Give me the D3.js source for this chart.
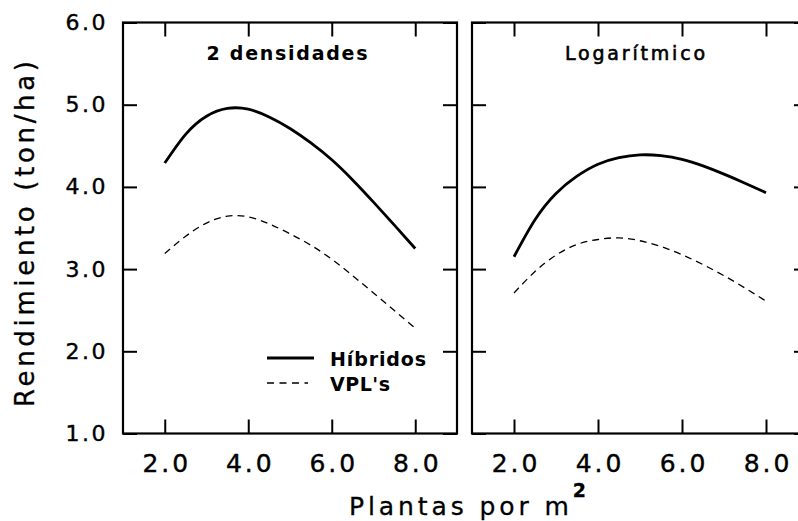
<!DOCTYPE html>
<html>
<head>
<meta charset="utf-8">
<script src="https://cdn.jsdelivr.net/npm/d3@7"></script>
<style>
  html, body { margin: 0; padding: 0; background: #fff; }
  svg { display: block; font-family: "DejaVu Sans", sans-serif; }
</style>
</head>
<body>
<svg id="chart" width="798" height="521"></svg>
<script>
// ---- data ----
const plantas = [2.0, 2.5, 3.0, 3.5, 4.0, 4.5, 5.0, 5.5, 6.0, 6.5, 7.0, 7.5, 8.0];
const hibridosDens = [4.29, 4.64, 4.86, 4.955, 4.945, 4.85, 4.71, 4.535, 4.33, 4.085, 3.815, 3.535, 3.25];
const vplDens      = [3.19, 3.40, 3.56, 3.645, 3.635, 3.55, 3.43, 3.29, 3.12, 2.92, 2.71, 2.495, 2.28];
const hibridosLog  = [3.15, 3.60, 3.92, 4.13, 4.275, 4.355, 4.39, 4.38, 4.335, 4.255, 4.155, 4.045, 3.93];
const vplLog       = [2.71, 2.97, 3.17, 3.30, 3.36, 3.38, 3.345, 3.275, 3.175, 3.055, 2.92, 2.77, 2.61];
const panelTitles  = ["2 densidades", "Logarítmico"];
const legendLabels = ["Híbridos", "VPL's"];
const xTickValues  = [2, 4, 6, 8];
const yTickValues  = [1, 2, 3, 4, 5, 6];
const xTitle = "Plantas por m";
const xTitleSup = "2";
const yTitle = "Rendimiento (ton/ha)";

// ---- layout ----
const svg = d3.select("#chart");
const plotTop = 22.5, plotBottom = 433.5;
const panels = [
  { x0: 123, x1: 457, title: panelTitles[0], hib: hibridosDens, vpl: vplDens, labels: true },
  { x0: 472, x1: 808, title: panelTitles[1], hib: hibridosLog, vpl: vplLog, labels: false }
];
const y = d3.scaleLinear().domain([1, 6]).range([plotBottom, plotTop]);
const fmt = d3.format(".1f");

panels.forEach((p, i) => {
  const x = d3.scaleLinear().domain([1, 9]).range([p.x0, p.x1]);
  const g = svg.append("g");

  // frame
  g.append("rect").attr("x", p.x0).attr("y", plotTop)
    .attr("width", p.x1 - p.x0).attr("height", plotBottom - plotTop)
    .attr("fill", "none").attr("stroke", "#000").attr("stroke-width", 2.2);

  // axes with inward ticks
  const left = g.append("g").attr("transform", `translate(${p.x0},0)`)
    .call(d3.axisLeft(y).tickValues(yTickValues).tickSize(-14).tickPadding(17)
      .tickFormat(p.labels ? fmt : () => ""));
  const right = g.append("g").attr("transform", `translate(${p.x1},0)`)
    .call(d3.axisRight(y).tickValues(yTickValues).tickSize(-14).tickFormat(() => ""));
  const topAx = g.append("g").attr("transform", `translate(0,${plotTop})`)
    .call(d3.axisTop(x).tickValues(xTickValues).tickSize(-14).tickFormat(() => ""));
  const bot = g.append("g").attr("transform", `translate(0,${plotBottom})`)
    .call(d3.axisBottom(x).tickValues(xTickValues).tickSize(-14).tickPadding(21).tickFormat(fmt));

  [left, right, topAx, bot].forEach(a => {
    a.select(".domain").remove();
    a.selectAll(".tick line").attr("stroke", "#000").attr("stroke-width", 2);
  });
  left.selectAll(".tick text").attr("font-size", 22).attr("fill", "#000")
    .attr("stroke", "#000").attr("stroke-width", 0.4)
    .attr("font-family", "DejaVu Sans").attr("letter-spacing", 2.5).attr("dx", 2);
  bot.selectAll(".tick text").attr("font-size", 25).attr("fill", "#000")
    .attr("stroke", "#000").attr("stroke-width", 0.4)
    .attr("font-family", "DejaVu Sans").attr("letter-spacing", 3).attr("dx", 1.5)
    .attr("dy", "0.71em");

  // curves
  const line = d3.line().x((d, k) => x(plantas[k])).y(d => y(d)).curve(d3.curveNatural);
  g.append("path").datum(p.hib).attr("d", line)
    .attr("fill", "none").attr("stroke", "#000").attr("stroke-width", 2.8);
  g.append("path").datum(p.vpl).attr("d", line)
    .attr("fill", "none").attr("stroke", "#000").attr("stroke-width", 1.3)
    .attr("stroke-dasharray", "7,5");

  // panel title
  if (i === 0) {
    g.append("text").attr("x", 287).attr("y", 60).attr("text-anchor", "middle")
      .attr("font-size", 19).attr("font-weight", "bold")
      .attr("textLength", 161).attr("lengthAdjust", "spacing").text(p.title);
  } else {
    g.append("text").attr("x", 565).attr("y", 60)
      .attr("font-size", 19).attr("fill", "#000")
      .attr("stroke", "#000").attr("stroke-width", 0.6)
      .attr("textLength", 140).attr("lengthAdjust", "spacing").text(p.title);
  }
});

// legend (left panel)
const leg = svg.append("g");
leg.append("line").attr("x1", 267).attr("x2", 314).attr("y1", 358).attr("y2", 358)
  .attr("stroke", "#000").attr("stroke-width", 3);
leg.append("line").attr("x1", 267).attr("x2", 308).attr("y1", 383).attr("y2", 383)
  .attr("stroke", "#000").attr("stroke-width", 1.3).attr("stroke-dasharray", "7,5.5");
leg.append("text").attr("x", 330).attr("y", 365.5).attr("font-size", 19)
  .attr("font-weight", "bold").attr("textLength", 96).attr("lengthAdjust", "spacing")
  .text(legendLabels[0]);
leg.append("text").attr("x", 330).attr("y", 390.5).attr("font-size", 19)
  .attr("font-weight", "bold").attr("textLength", 60).attr("lengthAdjust", "spacing")
  .text(legendLabels[1]);

// axis titles
const xt = svg.append("text").attr("x", 349).attr("y", 515).attr("font-size", 25)
  .attr("stroke", "#000").attr("stroke-width", 0.3);
xt.append("tspan").attr("letter-spacing", 3.9).text(xTitle);
xt.append("tspan").attr("dx", 0).attr("dy", -18).attr("font-size", 19)
  .attr("font-weight", "bold").text(xTitleSup);

svg.append("text").attr("transform", "translate(34,234) rotate(-90)")
  .attr("text-anchor", "middle").attr("font-size", 26)
  .attr("stroke", "#000").attr("stroke-width", 0.3)
  .attr("textLength", 346).attr("lengthAdjust", "spacing").text(yTitle);
</script>
</body>
</html>
